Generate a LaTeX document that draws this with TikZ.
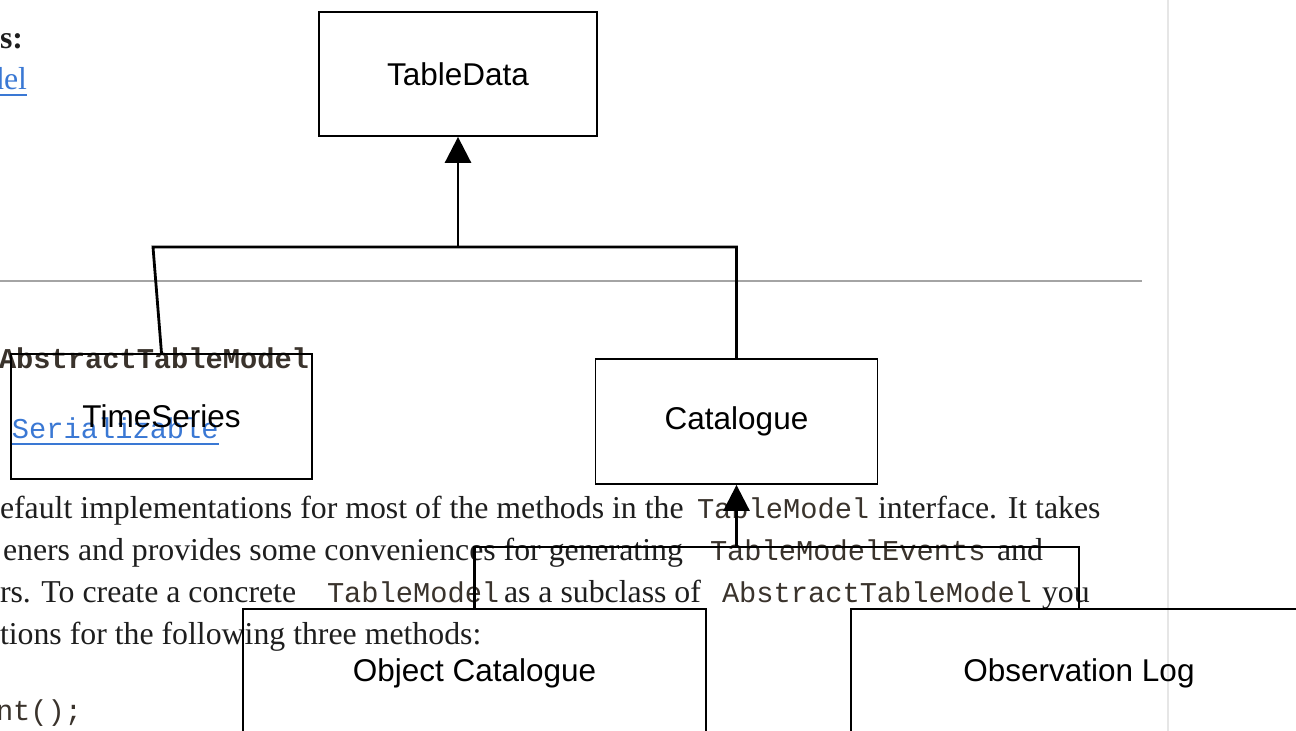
\documentclass[tikz,border=0pt]{standalone}
\usepackage{fontspec}
\setmainfont{Liberation Serif}
\setsansfont{Liberation Sans}
\setmonofont{Liberation Mono}
\usetikzlibrary{arrows.meta}
\definecolor{doctext}{HTML}{1E1E1E}
\definecolor{codetext}{HTML}{3A332C}
\definecolor{linkblue}{HTML}{3A78D4}
\definecolor{rulegray}{HTML}{A4A4A4}
\definecolor{panegray}{HTML}{E6E6E6}
\tikzset{
  doc/.style={anchor=base west, inner sep=0pt, outer sep=0pt, text=doctext,
    font=\fontsize{31.8}{38}\selectfont},
  docbold/.style={doc, font=\fontsize{31.8}{38}\selectfont\bfseries},
  code/.style={doc, text=codetext, font=\fontsize{28.7}{34}\selectfont\ttfamily},
  codebold/.style={code, font=\fontsize{28.7}{34}\selectfont\ttfamily\bfseries},
  link/.style={text=linkblue},
  uline/.style={draw=linkblue, line width=1.5pt},
  classbox/.style={draw=black, line width=1.8pt, inner sep=0pt,
    font=\fontsize{31.5}{38}\selectfont\sffamily},
  conn/.style={draw=black, line width=2.8pt},
  inherit/.style={conn, -{Triangle[length=26pt, width=26pt]}}
}
\begin{document}
\begin{tikzpicture}[x=1pt, y=-1pt]
  \useasboundingbox (0,0) rectangle (1296,731);
  \fill[white] (0,0) rectangle (1296,731);

  % page furniture of the documentation view
  \draw[panegray, line width=2.5pt] (1168,0) -- (1168,731);
  \draw[rulegray, line width=2pt] (0,281) -- (1142,281);

  % documentation text
  \node[docbold] (ifc) at (0,48) {s:};
  \node[doc, link, anchor=base east] (lnk) at (27,89) {del};
  \draw[uline] ([yshift=-6pt]lnk.base west) -- ([yshift=-6pt]lnk.base east);

  \node[codebold] (decl) at (-1,368) {AbstractTableModel};
  \node[code, link] (ser) at (12,438) {Serializable};
  \draw[uline] ([yshift=-6pt]ser.base west) -- ([yshift=-6pt]ser.base east);

  \node[doc] (l1a) at (0,518) {efault implementations for most of the methods in the};
  \node[code] (l1b) at (697,518) {TableModel};
  \node[doc] (l1c) at (878,518) {interface. It takes};

  \node[doc] (l2a) at (3,560) {eners and provides some conveniences for generating};
  \node[code] (l2b) at (710,560) {TableModelEvents};
  \node[doc] (l2c) at (997,560) {and};

  \node[doc] (l3a) at (0,602) {rs. To create a concrete};
  \node[code] (l3b) at (327,602) {TableModel};
  \node[doc] (l3c) at (504,602) {as a subclass of};
  \node[code] (l3d) at (722,602) {AbstractTableModel};
  \node[doc] (l3e) at (1042,602) {you};

  \node[doc] (l4a) at (0,644) {tions for the following three methods:};
  \node[code] (l5a) at (-4,720) {nt();};

  % class boxes
  \node[classbox, minimum width=278pt, minimum height=124pt] (td) at (458,74) {TableData};
  \node[classbox, minimum width=301pt, minimum height=125pt] (ts) at (161.5,416.5) {TimeSeries};
  \node[classbox, minimum width=282pt, minimum height=125pt] (cat) at (736.5,421.5) {Catalogue};
  \node[classbox, minimum width=463pt, minimum height=128pt] (oc) at (474.5,673) {Object Catalogue};
  \node[classbox, minimum width=456pt, minimum height=128pt] (ol) at (1079,673) {Observation Log};

  % inheritance: TimeSeries, Catalogue -> TableData
  \coordinate (ja) at (153,247);
  \coordinate (jb) at (cat.north |- ja);
  \draw[conn] (ts.north) -- (ja) -- (jb) -- (cat.north);
  \draw[inherit] (td.south |- ja) -- (td.south);

  % inheritance: Object Catalogue, Observation Log -> Catalogue
  \coordinate (ka) at (oc.north |- 0,547);
  \coordinate (kb) at (ol.north |- 0,547);
  \draw[conn] (oc.north) -- (ka) -- (kb) -- (ol.north);
  \draw[inherit] (cat.south |- ka) -- (cat.south);
\end{tikzpicture}
\end{document}
